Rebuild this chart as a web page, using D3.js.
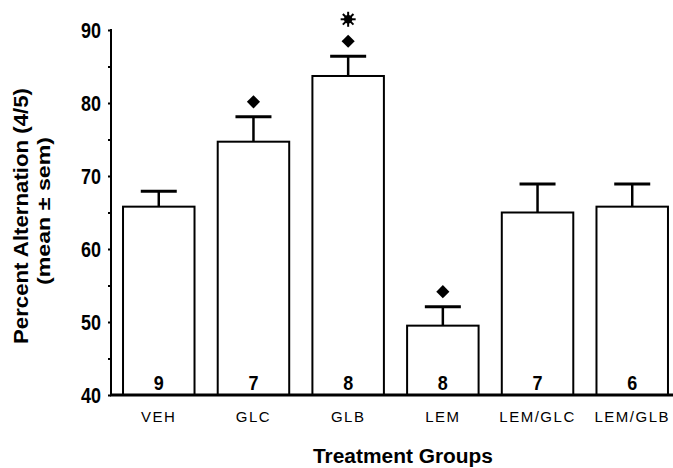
<!DOCTYPE html>
<html>
<head>
<meta charset="utf-8">
<script src="https://cdn.jsdelivr.net/npm/d3@7"></script>
<style>
  body { margin: 0; background: #fff; }
  svg text { font-family: "Liberation Sans", Arial, sans-serif; fill: #000; }
</style>
</head>
<body>
<div id="chart"></div>
<script>
// values
var groups = ["VEH", "GLC", "GLB", "LEM", "LEM/GLC", "LEM/GLB"];
var means = [65.8, 74.7, 83.7, 49.5, 65.0, 65.8];
var sems = [2.1, 3.4, 2.7, 2.6, 3.9, 3.1];
var counts = [9, 7, 8, 8, 7, 6];
var vsVeh = [false, true, true, true, false, false];   // diamond
var vsGlc = [false, false, true, false, false, false]; // asterisk
var yTicks = [40, 50, 60, 70, 80, 90];

var width = 673, height = 468;

var svg = d3.select("#chart").append("svg")
    .attr("width", width)
    .attr("height", height);

var x = d3.scaleBand()
    .domain(groups)
    .range([111, 680])
    .paddingInner(0.245)
    .paddingOuter(0.127);

var y = d3.scaleLinear()
    .domain([40, 90])
    .range([395, 30]);

var data = groups.map(function (g, i) {
    return { group: g, mean: means[i], sem: sems[i], n: counts[i], d: vsVeh[i], s: vsGlc[i] };
});

// bars
svg.selectAll("rect.bar")
    .data(data)
    .enter().append("rect")
    .attr("class", "bar")
    .attr("x", function (d) { return x(d.group); })
    .attr("y", function (d) { return y(d.mean); })
    .attr("width", x.bandwidth())
    .attr("height", function (d) { return y(40) - y(d.mean); })
    .attr("fill", "#fff")
    .attr("stroke", "#000")
    .attr("stroke-width", 2);

// error bars (upper only)
var eb = svg.selectAll("g.err")
    .data(data)
    .enter().append("g")
    .attr("class", "err")
    .attr("transform", function (d) { return "translate(" + (x(d.group) + x.bandwidth() / 2) + ",0)"; });

eb.append("line")
    .attr("x1", 0).attr("x2", 0)
    .attr("y1", function (d) { return y(d.mean); })
    .attr("y2", function (d) { return y(d.mean + d.sem); })
    .attr("stroke", "#000")
    .attr("stroke-width", 2.5);

eb.append("line")
    .attr("x1", -18).attr("x2", 18)
    .attr("y1", function (d) { return y(d.mean + d.sem); })
    .attr("y2", function (d) { return y(d.mean + d.sem); })
    .attr("stroke", "#000")
    .attr("stroke-width", 3);

// significance markers
eb.filter(function (d) { return d.d; })
    .append("path")
    .attr("d", d3.symbol(d3.symbolDiamond2, 110))
    .attr("transform", function (d) { return "translate(0," + (y(d.mean + d.sem) - 15) + ")"; })
    .attr("fill", "#000");

// sunburst asterisk: small disc with 8 rays
var star = eb.filter(function (d) { return d.s; })
    .append("g")
    .attr("transform", function (d) { return "translate(0," + (y(d.mean + d.sem) - 37) + ")"; });
star.selectAll("line")
    .data(d3.range(4))
    .enter().append("line")
    .attr("x1", function (k) { return -7.5 * Math.cos(k * Math.PI / 4); })
    .attr("y1", function (k) { return -7.5 * Math.sin(k * Math.PI / 4); })
    .attr("x2", function (k) { return 7.5 * Math.cos(k * Math.PI / 4); })
    .attr("y2", function (k) { return 7.5 * Math.sin(k * Math.PI / 4); })
    .attr("stroke", "#000")
    .attr("stroke-width", 2);
star.append("circle").attr("r", 4.2).attr("fill", "#000");

// n inside bars
svg.selectAll("text.n")
    .data(data)
    .enter().append("text")
    .attr("class", "n")
    .attr("x", function (d) { return x(d.group) + x.bandwidth() / 2; })
    .attr("y", 390)
    .attr("text-anchor", "middle")
    .attr("textLength", 10)
    .attr("lengthAdjust", "spacingAndGlyphs")
    .style("font-size", "20px")
    .style("font-weight", "bold")
    .text(function (d) { return d.n; });

// y axis
var yAxis = svg.append("g")
    .attr("transform", "translate(111,0)")
    .call(d3.axisLeft(y).tickValues(d3.range(40, 91, 5)).tickSize(3)
        .tickFormat(function (d) { return yTicks.indexOf(d) >= 0 ? d : ""; }));
yAxis.select(".domain").attr("stroke-width", 2).attr("d", "M0,29V396");
yAxis.selectAll(".tick line").attr("stroke-width", 2);
yAxis.selectAll(".tick text")
    .attr("x", -10)
    .attr("dy", "0.36em")
    .attr("textLength", 20)
    .attr("lengthAdjust", "spacingAndGlyphs")
    .style("font-size", "22px")
    .style("font-weight", "bold")
    .style("font-family", "'Liberation Sans', Arial, sans-serif")
    .attr("fill", "#000");

// x axis
var xAxis = svg.append("g")
    .attr("transform", "translate(0,395)")
    .call(d3.axisBottom(x).tickSize(0).tickPadding(16));
xAxis.select(".domain").attr("stroke-width", 3).attr("d", "M110,0H673");
xAxis.selectAll(".tick text")
    .style("font-size", "15px")
    .style("letter-spacing", "1.5px")
    .style("font-family", "'Liberation Sans', Arial, sans-serif")
    .attr("fill", "#000");

// titles
svg.append("text")
    .attr("x", 403)
    .attr("y", 463)
    .attr("text-anchor", "middle")
    .attr("textLength", 180)
    .attr("lengthAdjust", "spacingAndGlyphs")
    .style("font-size", "20px")
    .style("font-weight", "bold")
    .text("Treatment Groups");

svg.append("text")
    .attr("transform", "translate(28,216) rotate(-90)")
    .attr("text-anchor", "middle")
    .attr("textLength", 256)
    .attr("lengthAdjust", "spacingAndGlyphs")
    .style("font-size", "20px")
    .style("font-weight", "bold")
    .text("Percent Alternation (4/5)");

svg.append("text")
    .attr("transform", "translate(50,211) rotate(-90)")
    .attr("text-anchor", "middle")
    .attr("textLength", 148)
    .attr("lengthAdjust", "spacingAndGlyphs")
    .style("font-size", "18px")
    .style("font-weight", "bold")
    .text("(mean \u00b1 sem)");
</script>
</body>
</html>
